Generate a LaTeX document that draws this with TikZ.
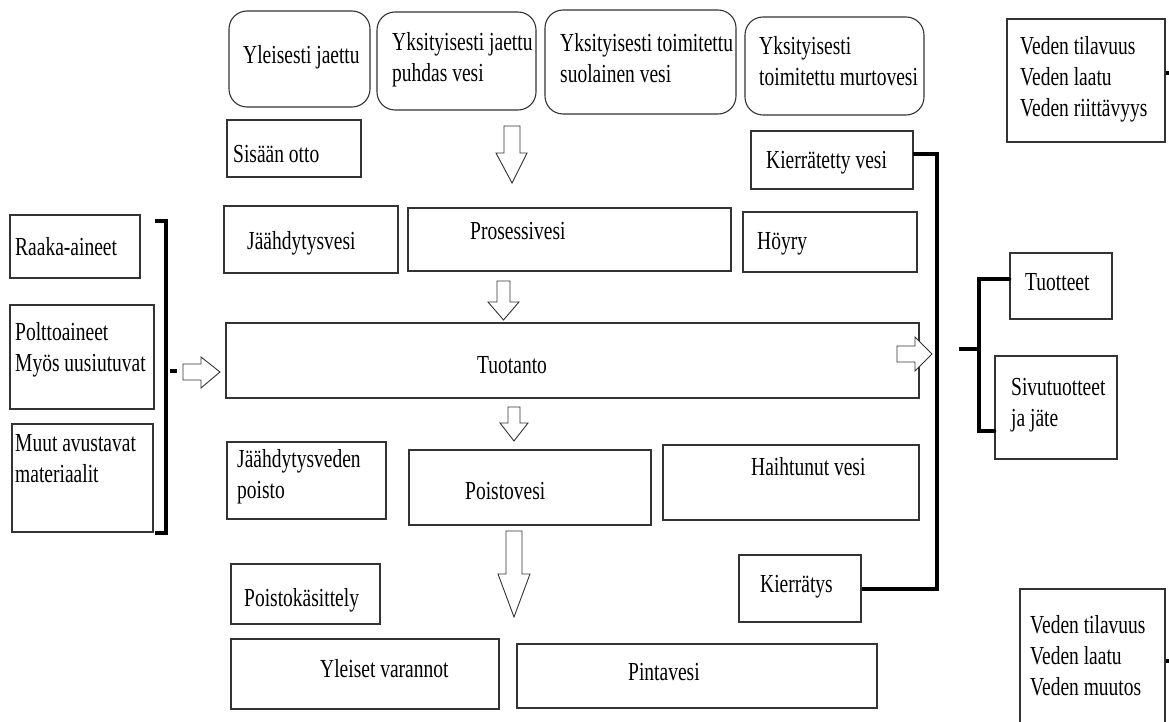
\documentclass[tikz,border=0pt]{standalone}
\usepackage{fontspec}
\setmainfont[FakeStretch=0.75]{Liberation Serif}
\usetikzlibrary{fit}
% multi-line label whose reference point is the first baseline
\newcommand\mlines[1]{\begin{tabular}[t]{@{}l@{}}#1\end{tabular}}
\begin{document}
\begin{tikzpicture}[x=1pt,y=-1pt,
  box/.style={draw=black!80, line width=1.1pt, inner sep=0pt, fill=white},
  rbox/.style={box, rounded corners=18pt},
  txt/.style={inner sep=0pt, anchor=base west, font=\fontsize{26}{31}\selectfont},
  bar/.style={line width=3.6pt, black},
  blockarrow/.style={draw=black!80, line width=0.9pt, fill=white, line join=miter}
]
\useasboundingbox (0,0) rectangle (1169,722);
\clip (0,0) rectangle (1169,722);

% --- water sources (rounded) ---
\node[rbox, fit={(229,11) (370,107)}] (yj) {};
\node[rbox, fit={(377,12) (536,110)}] (yjp) {};
\node[rbox, fit={(545,10) (736,114)}] (yts) {};
\node[rbox, fit={(745,17) (924,115)}] (ytm) {};
\node[txt] (yj-t) at (243,64) {Yleisesti jaettu};
\node[txt] (yjp-t) at (392,51) {\mlines{Yksityisesti jaettu\\puhdas vesi}};
\node[txt] (yts-t) at (560,52) {\mlines{Yksityisesti toimitettu\\suolainen vesi}};
\node[txt] (ytm-t) at (759,55) {\mlines{Yksityisesti\\toimitettu murtovesi}};

% --- plain boxes ---
\node[box, fit={(1007,19) (1165,142)}] (vt1) {};
\node[box, fit={(227,120) (361,177)}] (so) {};
\node[box, fit={(751,131) (913,189)}] (kv) {};
\node[box, fit={(224,206) (398,273)}] (jv) {};
\node[box, fit={(408,208) (731,271)}] (pv) {};
\node[box, fit={(743,212) (917,272)}] (hy) {};
\node[box, fit={(226,323) (919,398)}] (tp) {};
\node[box, fit={(10,215) (140,278)}] (ra) {};
\node[box, fit={(10,305) (154,409)}] (pa) {};
\node[box, fit={(12,424) (153,532)}] (ma) {};
\node[box, fit={(1010,253) (1112,319)}] (tt) {};
\node[box, fit={(995,356) (1117,459)}] (st) {};
\node[box, fit={(227,442) (386,519)}] (jp) {};
\node[box, fit={(409,450) (651,525)}] (po) {};
\node[box, fit={(663,445) (919,520)}] (hv) {};
\node[box, fit={(739,555) (861,622)}] (kr) {};
\node[box, fit={(231,564) (380,624)}] (pk) {};
\node[box, fit={(231,639) (499,709)}] (yv) {};
\node[box, fit={(517,644) (877,708)}] (pi) {};
\node[box, fit={(1020,589) (1165,745)}] (vt2) {};

% --- labels ---
\node[txt] (vt1-t) at (1020,55) {\mlines{Veden tilavuus\\Veden laatu\\Veden riittävyys}};
\node[txt] (so-t) at (233,163) {Sisään otto};
\node[txt] (kv-t) at (766,168) {Kierrätetty vesi};
\node[txt] (jv-t) at (247,249) {Jäähdytysvesi};
\node[txt] (pv-t) at (470,239) {Prosessivesi};
\node[txt] (hy-t) at (757,249) {Höyry};
\node[txt] (tp-t) at (477,373) {Tuotanto};
\node[txt] (ra-t) at (15,255) {Raaka-aineet};
\node[txt] (pa-t) at (15,340) {\mlines{Polttoaineet\\Myös uusiutuvat}};
\node[txt] (ma-t) at (15,451) {\mlines{Muut avustavat\\materiaalit}};
\node[txt] (tt-t) at (1025,290) {Tuotteet};
\node[txt] (st-t) at (1011,395) {\mlines{Sivutuotteet\\ja jäte}};
\node[txt] (jp-t) at (237,467) {\mlines{Jäähdytysveden\\poisto}};
\node[txt] (po-t) at (465,499) {Poistovesi};
\node[txt] (hv-t) at (751,475) {Haihtunut vesi};
\node[txt] (kr-t) at (760,592) {Kierrätys};
\node[txt] (pk-t) at (244,606) {Poistokäsittely};
\node[txt] (yv-t) at (320,677) {Yleiset varannot};
\node[txt] (pi-t) at (628,680) {Pintavesi};
\node[txt] (vt2-t) at (1030,633) {\mlines{Veden tilavuus\\Veden laatu\\Veden muutos}};

% --- hollow block arrows ---
\draw[blockarrow] (504,126) -- (520,126) -- (520,153) -- (527,153) -- (512,183) -- (496,153) -- (504,153) -- cycle;
\draw[blockarrow] (497,281) -- (510,281) -- (510,302) -- (519,302) -- (503.5,320) -- (488,302) -- (497,302) -- cycle;
\draw[blockarrow] (508,407) -- (520,407) -- (520,423) -- (528,423) -- (514,441) -- (500,423) -- (508,423) -- cycle;
\draw[blockarrow] (506,531) -- (522,531) -- (522,574) -- (530,574) -- (514,617) -- (498,574) -- (506,574) -- cycle;
\draw[blockarrow] (183,364) -- (201,364) -- (201,357) -- (220,372) -- (201,388) -- (201,380) -- (183,380) -- cycle;
\draw[blockarrow] (897,346) -- (915,346) -- (915,337) -- (932,354) -- (915,371) -- (915,362) -- (897,362) -- cycle;

% --- bracket gathering the input materials ---
\coordinate (lbt) at (166,221);
\coordinate (lbb) at (166,533);
\draw[bar] (155,221) -- (lbt) -- (lbb) -- (155,533);
\draw[bar] (170,371) -- (177,371);

% --- recycling loop ---
\coordinate (rc1) at (937,154);
\coordinate (rc2) at (937,589);
\draw[bar] (913,154) -- (rc1) -- (rc2) -- (kr.east |- rc2);

% --- outputs bracket ---
\coordinate (ob) at (979,349);
\coordinate (obt) at (979,279);
\coordinate (obb) at (979,431);
\draw[bar] (959,349) -- (ob);
\draw[bar, line cap=round] (tt.west |- obt) -- (obt) -- (obb) -- (st.west |- obb);

% --- stubs on the water quality boxes ---
\draw[bar] (vt1.east |- 0,73) -- (1172,73);
\draw[bar] (vt2.east |- 0,661) -- (1172,661);
\end{tikzpicture}
\end{document}
